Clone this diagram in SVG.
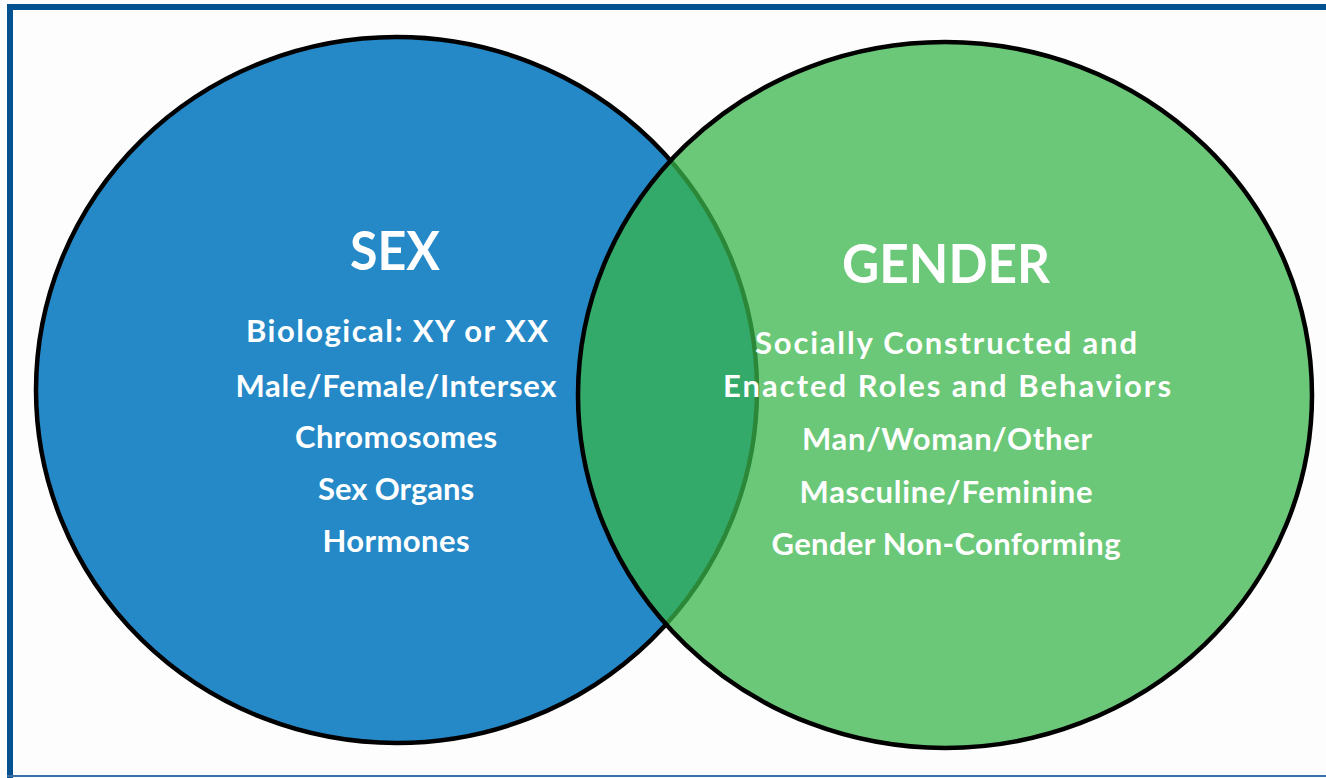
<svg xmlns="http://www.w3.org/2000/svg" width="1326" height="778" viewBox="0 0 1326 778">
  <style>
    .circ { stroke: #000; stroke-width: 4.5; }
    .t { font-family: Lato, "Open Sans", "Liberation Sans", sans-serif; font-weight: bold; fill: #fff; text-anchor: middle; }
    .title { font-size: 54px; }
    .item { font-size: 31px; }
  </style>
  <rect x="0" y="0" width="1326" height="778" fill="#fdfdfd"/>
  <g id="frame" fill="#03528f">
    <rect x="7" y="4" width="1319" height="6"/>
    <rect x="7" y="4" width="6" height="774"/>
    <rect x="7" y="775" width="1319" height="2" fill="#3b6fa6"/>
  </g>
  <g id="sex">
    <ellipse class="circ" cx="396.5" cy="390" rx="360.5" ry="353" fill="#2589c8"/>
  </g>
  <g id="gender">
    <ellipse class="circ" cx="945" cy="395" rx="367" ry="353" fill="#3ab64b" fill-opacity="0.75"/>
  </g>
  <g id="sex-text">
    <text class="t title" x="395" y="270" textLength="90" lengthAdjust="spacingAndGlyphs">SEX</text>
    <text class="t item" x="397" y="342" textLength="302">Biological: XY or XX</text>
    <text class="t item" x="396" y="397" textLength="321">Male/Female/Intersex</text>
    <text class="t item" x="396" y="448" textLength="202">Chromosomes</text>
    <text class="t item" x="396" y="500" textLength="156">Sex Organs</text>
    <text class="t item" x="396" y="552" textLength="147">Hormones</text>
  </g>
  <g id="gender-text">
    <text class="t title" x="946" y="283" textLength="208" lengthAdjust="spacingAndGlyphs">GENDER</text>
    <text class="t item" x="946" y="354" textLength="382">Socially Constructed and</text>
    <text class="t item" x="947" y="397" textLength="448">Enacted Roles and Behaviors</text>
    <text class="t item" x="947" y="450" textLength="290">Man/Woman/Other</text>
    <text class="t item" x="946" y="503" textLength="293">Masculine/Feminine</text>
    <text class="t item" x="946" y="555" textLength="349">Gender Non-Conforming</text>
  </g>
</svg>
